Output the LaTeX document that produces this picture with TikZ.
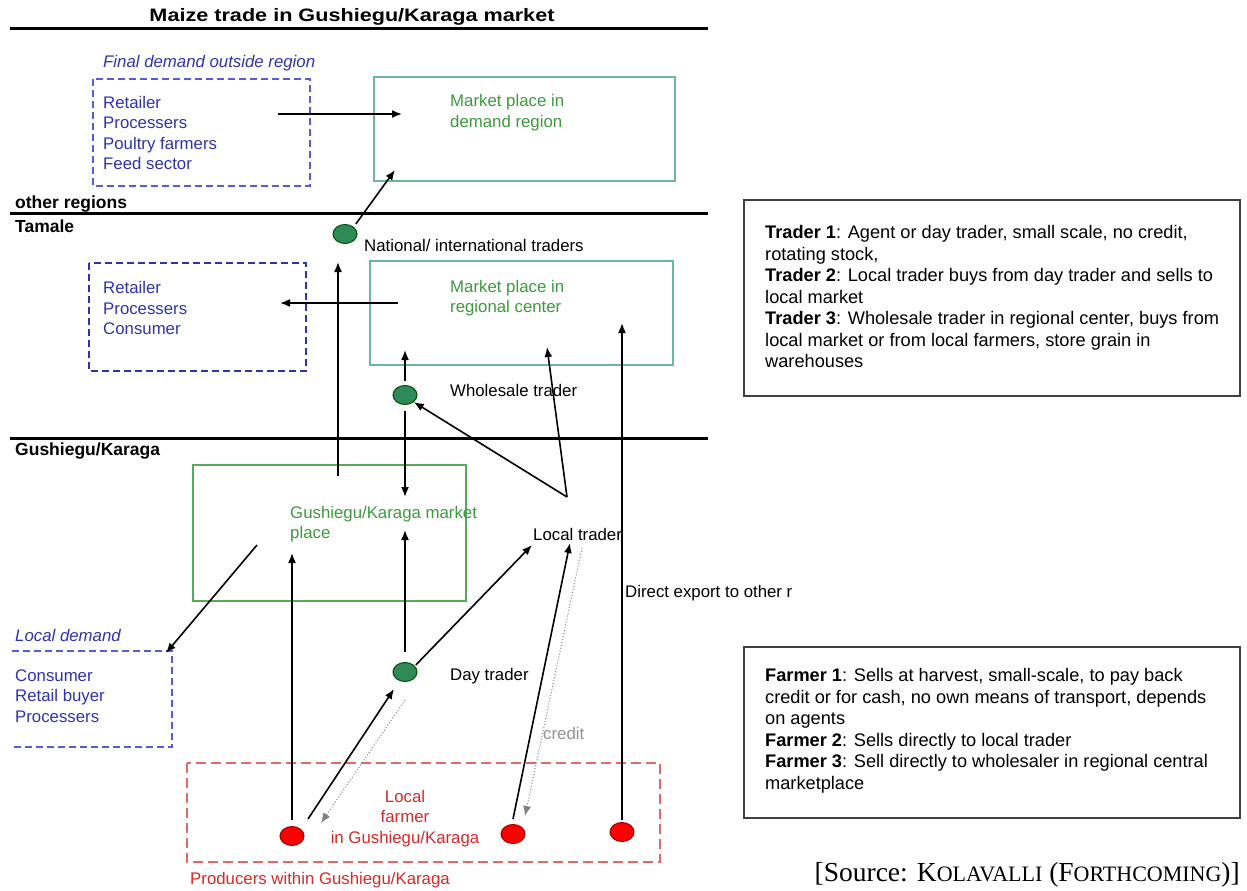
\documentclass[tikz,border=0pt]{standalone}
\usepackage{fontspec}
\setmainfont{Liberation Sans}
\newfontfamily\srcfont{Liberation Serif}
\usetikzlibrary{arrows.meta,shapes.geometric}
\definecolor{dblue}{HTML}{3232A8}
\definecolor{boxblue}{HTML}{5A5AD8}
\definecolor{tgreen}{HTML}{3C9A3C}
\definecolor{tealbox}{HTML}{6DB5A2}
\definecolor{gbox}{HTML}{5AA85A}
\definecolor{ored}{HTML}{D42A2A}
\definecolor{rbox}{HTML}{E06A6A}
\definecolor{cgreen}{HTML}{2E8B57}
\tikzset{
  x=1pt,y=-1pt,
  txt/.style={inner sep=0pt,anchor=west,font=\fontsize{16.8}{20.5}\selectfont,align=left},
  btxt/.style={txt,text=dblue},
  gtxt/.style={txt,text=tgreen},
  rtxt/.style={txt,text=ored},
  reg/.style={inner sep=0pt,anchor=west,font=\bfseries\fontsize{17.5}{20}\selectfont},
  arr/.style={draw=black,line width=1.6pt,-{Latex[length=10pt,width=8pt]}},
  darr/.style={draw=gray,line width=1pt,dotted,-{Latex[length=10pt,width=8pt]}},
  gdot/.style={ellipse,draw=black!70!green,line width=1pt,fill=cgreen,minimum width=24pt,minimum height=19pt,inner sep=0pt},
  rdot/.style={ellipse,draw=red!60!black,line width=1pt,fill=red,minimum width=24pt,minimum height=19pt,inner sep=0pt},
  sep/.style={line width=3pt},
  infotxt/.style={inner sep=0pt,anchor=west,font=\fontsize{18.2}{21.5}\selectfont,align=left}
}
\begin{document}
\begin{tikzpicture}
\useasboundingbox (0,0) rectangle (1247,891);
% title and separators
\node[inner sep=0pt,font=\bfseries\fontsize{18}{20}\selectfont] (title) at (352,17) {\resizebox{405pt}{\height}{Maize trade in Gushiegu/Karaga market}};
\draw[sep] (10,29) -- (708,29);
\draw[sep] (10,213) -- (708,213);
\draw[sep] (10,438) -- (708,438);
\node[reg] (lother) at (15,204) {other regions};
\node[reg] (ltam) at (15,226) {Tamale};
\node[reg] (lgush) at (15,451) {Gushiegu/Karaga};

% final demand outside region
\node[btxt,font=\itshape\fontsize{16.8}{20}\selectfont] (lfd) at (103,63) {Final demand outside region};
\draw[boxblue,dashed,line width=1.4pt,dash pattern=on 7pt off 4pt] (93,79) rectangle (310,186);
\node[btxt] (fdlist) at (103,133) {Retailer\\Processers\\Poultry farmers\\Feed sector};
\draw[tealbox,line width=1.3pt] (374,77) rectangle (675,181);
\node[gtxt] (mdem) at (450,112.5) {Market place in\\demand region};

% Tamale
\node[gdot] (nat) at (345,234) {};
\node[txt] (lnat) at (364,245) {National/ international traders};
\draw[dblue,dashed,line width=1.4pt,dash pattern=on 7pt off 4pt] (89,263) rectangle (306,371);
\node[btxt] (tamlist) at (103,308) {Retailer\\Processers\\Consumer};
\draw[tealbox,line width=1.3pt] (370,261) rectangle (673,365);
\node[gtxt] (mreg) at (450,298) {Market place in\\regional center};
\node[gdot] (whs) at (405,395) {};
\node[txt] (lwhs) at (450,390) {Wholesale trader};

% Gushiegu/Karaga
\draw[gbox,line width=1.5pt] (193,465) rectangle (466,601);
\node[gtxt] (mgush) at (290,524) {Gushiegu/Karaga market\\place};
\node[txt] (llt) at (533,534) {Local trader};
\node[txt] (ldir) at (625,593) {Direct export to other r};
\node[btxt,font=\itshape\fontsize{16.8}{20}\selectfont] (lld) at (15,635) {Local demand};
\draw[boxblue,dashed,line width=1.4pt,dash pattern=on 7pt off 4pt] (12,651) -- (172,651) -- (172,747) -- (12,747);
\node[btxt] (ldlist) at (15,696) {Consumer\\Retail buyer\\Processers};
\node[gdot] (day) at (405,672) {};
\node[txt] (lday) at (450,676) {Day trader};
\node[txt,text=gray!85] (lcred) at (543,733) {credit};

% producers
\draw[rbox,dashed,line width=1.4pt,dash pattern=on 10pt off 5pt] (187,763) rectangle (660,862);
\node[rtxt,anchor=center,align=center] (lfarm) at (405,818.5) {Local\\farmer\\in Gushiegu/Karaga};
\node[rdot] (f1) at (292,836) {};
\node[rdot] (f2) at (513,834) {};
\node[rdot] (f3) at (622,832) {};
\node[rtxt] (lprod) at (190,880) {Producers within Gushiegu/Karaga};

% info boxes
\draw[black!75,line width=1.3pt] (744,200) rectangle (1240,396);
\node[infotxt] (info1) at (765,296.5) {\textbf{Trader 1}: Agent or day trader, small scale, no credit,\\rotating stock,\\\textbf{Trader 2}: Local trader buys from day trader and sells to\\local market\\\textbf{Trader 3}: Wholesale trader in regional center, buys from\\local market or from local farmers, store grain in\\warehouses};
\draw[black!75,line width=1.3pt] (744,647) rectangle (1240,818);
\node[infotxt] (info2) at (765,731) {\textbf{Farmer 1}: Sells at harvest, small-scale, to pay back\\credit or for cash, no own means of transport, depends\\on agents\\\textbf{Farmer 2}: Sells directly to local trader\\\textbf{Farmer 3}: Sell directly to wholesaler in regional central\\marketplace};
\node[inner sep=0pt,anchor=east,font=\srcfont\fontsize{27.5}{29}\selectfont] (src) at (1240,875) {[Source: K{\fontsize{22}{24}\selectfont OLAVALLI} (F{\fontsize{22}{24}\selectfont ORTHCOMING})]};

% coordinates for free ends
\coordinate (c1s) at (278,114); \coordinate (c1e) at (402,114);
\coordinate (c2e) at (395,170);
\coordinate (c3s) at (398,303); \coordinate (c3e) at (280,303);
\coordinate (c4e) at (405,350);
\coordinate (c5s) at (338,476); \coordinate (c5e) at (338,262);
\coordinate (c6e) at (405,497);
\coordinate (lt) at (567,497);
\coordinate (c7e) at (547,347);
\coordinate (c8e) at (622,323);
\coordinate (c9e) at (405,530);
\coordinate (c10e) at (292,553);
\coordinate (c11s) at (257,545); \coordinate (c11e) at (166,653);
\coordinate (c12e) at (532,545);
\coordinate (c13e) at (570,543);
\coordinate (c14s) at (582,548); \coordinate (c14e) at (525,816);
\coordinate (c15s) at (405,700); \coordinate (c15e) at (321,823);
\coordinate (c16s) at (308,819); \coordinate (c16e) at (394,689);

% connectors
\draw[arr] (c1s) -- (c1e);
\draw[arr] (nat.north east) ++(2,-3) -- (c2e);
\draw[arr] (c3s) -- (c3e);
\draw[arr] (whs.north) ++(0,-4) -- (c4e);
\draw[arr] (c5s) -- (c5e);
\draw[arr] (whs.south) ++(0,6) -- (c6e);
\draw[arr] (lt) -- (whs.south east);
\draw[arr] (lt) -- (c7e);
\draw[arr] (f3.north) ++(0,-2) -- (c8e);
\draw[arr] (day.north) ++(0,-10) -- (c9e);
\draw[arr] (f1.north) ++(0,-6) -- (c10e);
\draw[arr] (c11s) -- (c11e);
\draw[arr] (day.north east) ++(2,0) -- (c12e);
\draw[arr] (f2.north) ++(0,-5) -- (c13e);
\draw[darr] (c14s) -- (c14e);
\draw[darr] (c15s) -- (c15e);
\draw[arr] (c16s) -- (c16e);
\end{tikzpicture}
\end{document}
